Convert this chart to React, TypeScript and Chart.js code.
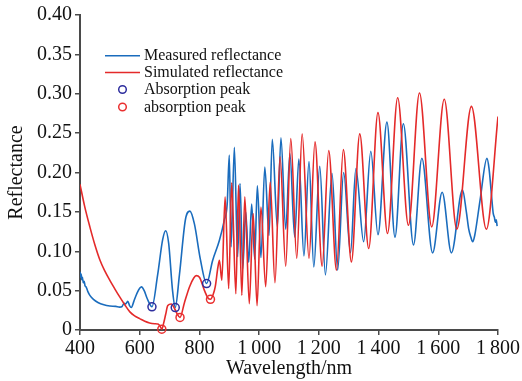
import React, { useEffect, useRef } from 'react';
import { Chart, registerables } from 'chart.js';

Chart.register(...registerables);

// ---------- data ----------
const measuredNm = [
  400, 402, 404, 406, 408, 411, 414, 417, 420, 426, 433, 445, 460, 480, 500, 520, 533, 540, 548, 553,
  560, 566, 572, 580, 590, 606, 615, 625, 641, 660, 677, 687, 697, 710, 719, 733, 753, 768, 783, 803,
  824, 844, 867, 883, 893, 900, 906, 917, 928, 936, 945, 955, 965, 975, 985, 994, 1006, 1019, 1033, 1044,
  1061, 1073, 1089, 1103, 1119, 1133, 1150, 1167, 1183, 1203, 1222, 1244, 1263, 1283, 1306, 1324, 1350, 1374, 1398, 1428,
  1455, 1483, 1517, 1545, 1581, 1613, 1644, 1681, 1694, 1702, 1709, 1715, 1722, 1740, 1763, 1770, 1778, 1784, 1788, 1791,
  1794, 1797,
];
const measuredR = [
  0.074, 0.067, 0.071, 0.064, 0.067, 0.06, 0.062, 0.056, 0.055, 0.049, 0.044, 0.039, 0.035, 0.032, 0.0305, 0.03, 0.029, 0.0295, 0.034, 0.033,
  0.0365, 0.031, 0.0285, 0.036, 0.046, 0.0547, 0.05, 0.04, 0.0295, 0.07, 0.115, 0.126, 0.11, 0.05, 0.0285, 0.07, 0.14, 0.151, 0.135, 0.09,
  0.059, 0.088, 0.114, 0.139, 0.16, 0.222, 0.1055, 0.232, 0.093, 0.186, 0.078, 0.15, 0.086, 0.16, 0.09, 0.183, 0.092, 0.207, 0.12, 0.242,
  0.131, 0.244, 0.128, 0.224, 0.118, 0.217, 0.094, 0.214, 0.08, 0.208, 0.07, 0.199, 0.076, 0.2, 0.098, 0.205, 0.112, 0.227, 0.121, 0.264,
  0.118, 0.262, 0.108, 0.218, 0.098, 0.175, 0.098, 0.178, 0.15, 0.128, 0.118, 0.112, 0.12, 0.165, 0.218, 0.205, 0.172, 0.148, 0.143, 0.137,
  0.14, 0.132,
];

const simulatedNm = [
  400, 415, 433, 450, 467, 483, 500, 517, 533, 550, 567, 583, 600, 617, 633, 650, 661, 668, 674, 681,
  687, 694, 706, 717, 726, 735, 750, 767, 781, 789, 800, 817, 828, 837, 846, 853, 862, 867, 875, 886,
  898, 908, 922, 931, 942, 952, 967, 980, 993, 1006, 1022, 1037, 1053, 1070, 1089, 1106, 1126, 1144, 1167, 1187,
  1211, 1233, 1259, 1282, 1309, 1337, 1367, 1398, 1430, 1464, 1500, 1537, 1578, 1620, 1662, 1711, 1761, 1800,
];
const simulatedR = [
  0.185, 0.158, 0.131, 0.108, 0.0886, 0.075, 0.063, 0.052, 0.042, 0.032, 0.023, 0.018, 0.0145, 0.011, 0.009, 0.008, 0.0075, 0.005, 0.001, 0.01,
  0.02, 0.031, 0.033, 0.027, 0.02, 0.016, 0.035, 0.055, 0.066, 0.069, 0.067, 0.05, 0.041, 0.039, 0.045, 0.055, 0.08, 0.0886, 0.063, 0.169,
  0.0526, 0.187, 0.046, 0.184, 0.044, 0.169, 0.0335, 0.148, 0.031, 0.156, 0.055, 0.188, 0.06, 0.22, 0.081, 0.243, 0.091, 0.249, 0.091, 0.239,
  0.081, 0.228, 0.076, 0.229, 0.0865, 0.249, 0.1035, 0.276, 0.1225, 0.295, 0.133, 0.301, 0.131, 0.293, 0.128, 0.284, 0.128, 0.271,
];

const measuredPeakNm = [641, 719, 824];
const measuredPeakR = [0.0295, 0.0285, 0.059];
const simulatedPeakNm = [674, 735, 837];
const simulatedPeakR = [0.001, 0.016, 0.039];

const seriesLabels = ['Measured reflectance', 'Simulated reflectance', 'Absorption peak', 'absorption peak'];
const xTitle = 'Wavelength/nm';
const yTitle = 'Reflectance';

const BLUE = '#1a6cbd';
const RED = '#e42a2a';
const NAVY = '#2e2e9e';
const RED_CIRCLE = '#ea3030';
const AXIS = '#4a4a4a';
const FONT = "'Liberation Serif', 'Times New Roman', serif";

const toPoints = (xs: number[], ys: number[]) => xs.map((x, i) => ({ x, y: ys[i] }));

const fmtX = (v: number) => {
  const s = String(Math.round(v));
  return s.length > 3 ? s.slice(0, s.length - 3) + '\u2009' + s.slice(s.length - 3) : s;
};

const overlayPlugin = {
  id: 'overlay',
  afterDraw(chart: any) {
    const ctx = chart.ctx as CanvasRenderingContext2D;
    const ca = chart.chartArea;
    ctx.save();
    // axis titles
    ctx.fillStyle = '#111';
    ctx.font = `20px ${FONT}`;
    ctx.textAlign = 'center';
    ctx.textBaseline = 'middle';
    ctx.fillText(xTitle, (ca.left + ca.right) / 2, 369);
    ctx.save();
    ctx.translate(17, (ca.top + ca.bottom) / 2);
    ctx.rotate(-Math.PI / 2);
    ctx.fillText(yTitle, 0, 0);
    ctx.restore();

    // legend
    const ds = chart.data.datasets;
    const rows = [55.7, 72.5, 89.5, 107];
    ctx.font = `16px ${FONT}`;
    ctx.textAlign = 'left';
    ctx.textBaseline = 'middle';
    for (let i = 0; i < 4; i++) {
      const y = rows[i];
      const d = ds[i];
      if (i < 2) {
        ctx.strokeStyle = d.borderColor;
        ctx.lineWidth = 1.6;
        ctx.beginPath();
        ctx.moveTo(105, y);
        ctx.lineTo(140, y);
        ctx.stroke();
      } else {
        ctx.strokeStyle = d.pointBorderColor;
        ctx.lineWidth = 1.5;
        ctx.beginPath();
        ctx.arc(122.5, y, 3.8, 0, Math.PI * 2);
        ctx.stroke();
      }
      ctx.fillStyle = '#111';
      ctx.fillText(seriesLabels[i], 144, y + 0.5);
    }
    ctx.restore();
  },
};

export default function App() {
  const ref = useRef<HTMLCanvasElement | null>(null);

  useEffect(() => {
    if (!ref.current) return;
    const chart = new Chart(ref.current, {
      type: 'line',
      data: {
        datasets: [
          {
            label: seriesLabels[0],
            data: toPoints(measuredNm, measuredR),
            borderColor: BLUE,
            borderWidth: 1.6,
            pointRadius: 0,
            cubicInterpolationMode: 'monotone',
            fill: false,
            order: 2,
          },
          {
            label: seriesLabels[1],
            data: toPoints(simulatedNm, simulatedR),
            borderColor: RED,
            borderWidth: 1.6,
            pointRadius: 0,
            cubicInterpolationMode: 'monotone',
            fill: false,
            order: 1,
          },
          {
            label: seriesLabels[2],
            data: toPoints(measuredPeakNm, measuredPeakR),
            showLine: false,
            pointRadius: 4,
            pointBorderWidth: 1.5,
            pointBorderColor: NAVY,
            pointBackgroundColor: 'rgba(0,0,0,0)',
            borderColor: NAVY,
            clip: false,
            order: 0,
          } as any,
          {
            label: seriesLabels[3],
            data: toPoints(simulatedPeakNm, simulatedPeakR),
            showLine: false,
            pointRadius: 4,
            pointBorderWidth: 1.5,
            pointBorderColor: RED_CIRCLE,
            pointBackgroundColor: 'rgba(0,0,0,0)',
            borderColor: RED_CIRCLE,
            clip: false,
            order: 0,
          } as any,
        ],
      },
      options: {
        animation: false,
        responsive: false,
        devicePixelRatio: 1,
        layout: { padding: { top: 15, right: 22, left: 0, bottom: 0 } },
        plugins: { legend: { display: false }, tooltip: { enabled: false } },
        scales: {
          x: {
            type: 'linear',
            min: 400,
            max: 1800,
            afterFit: (s: any) => {
              s.height = 51;
            },
            ticks: {
              stepSize: 200,
              autoSkip: false,
              maxRotation: 0,
              padding: 2,
              color: '#111',
              font: { family: FONT, size: 20 },
              callback: (v: any) => fmtX(Number(v)),
            },
            grid: { display: true, drawOnChartArea: false, drawTicks: true, tickLength: 5, color: AXIS, lineWidth: 1.5 },
            border: { display: true, color: AXIS, width: 2 },
          },
          y: {
            type: 'linear',
            min: 0,
            max: 0.4,
            afterFit: (s: any) => {
              s.width = 80;
            },
            ticks: {
              stepSize: 0.05,
              padding: 3,
              color: '#111',
              font: { family: FONT, size: 20 },
              callback: (v: any) => (Math.abs(Number(v)) < 1e-9 ? '0' : Number(v).toFixed(2)),
            },
            grid: { display: true, drawOnChartArea: false, drawTicks: true, tickLength: 5, color: AXIS, lineWidth: 1.5 },
            border: { display: true, color: AXIS, width: 2 },
          },
        },
      },
      plugins: [overlayPlugin],
    } as any);
    return () => chart.destroy();
  }, []);

  return (
    <div style={{ position: 'absolute', left: 0, top: 0, width: 522, height: 381, background: '#fff' }}>
      <canvas ref={ref} width={522} height={381} style={{ display: 'block' }} />
    </div>
  );
}
